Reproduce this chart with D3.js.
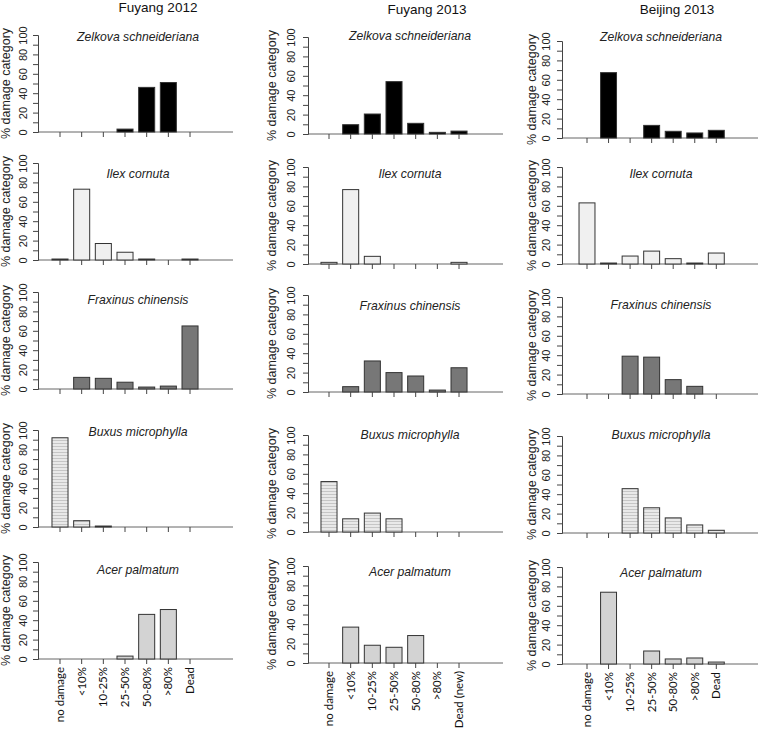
<!DOCTYPE html>
<html>
<head>
<meta charset="utf-8">
<script src="https://cdn.jsdelivr.net/npm/d3@7"></script>
<style>
body{margin:0;background:#fff}
</style>
</head>
<body>
<svg id="chart" width="760" height="732"></svg>
<script>
// data
var sites = ["Fuyang 2012", "Fuyang 2013", "Beijing 2013"];
var species = ["Zelkova schneideriana", "Ilex cornuta", "Fraxinus chinensis", "Buxus microphylla", "Acer palmatum"];
var categories = ["no damage", "<10%", "10-25%", "25-50%", "50-80%", ">80%", "Dead"];
var categoriesNew = ["no damage", "<10%", "10-25%", "25-50%", "50-80%", ">80%", "Dead (new)"];
var yTicks = [0, 10, 20, 30, 40, 50, 60, 70, 80, 90, 100];

var fuyang2012 = [
  [0, 0, 0, 3, 46, 51, 0],
  [1, 73, 17, 8, 1, 0, 1],
  [0, 12, 11, 7, 2, 3, 65],
  [92, 6.5, 1, 0, 0, 0, 0],
  [0, 0, 0, 3, 46, 51, 0]
];
var fuyang2013 = [
  [0, 9.6, 20.6, 54, 11, 1.7, 3],
  [1.7, 76.7, 7.9, 0, 0, 0, 1.7],
  [0, 5.5, 32, 20, 16.5, 2, 25],
  [52, 13.6, 19.5, 13.6, 0, 0, 0],
  [0, 37, 18.3, 16.2, 28.3, 0, 0]
];
var beijing2013 = [
  [0, 67.4, 0, 13, 6.9, 5.2, 7.9],
  [63, 1, 8.2, 13.3, 5.5, 1, 11.3],
  [0, 0, 39, 38, 14.8, 7.9, 0],
  [0, 0, 45.7, 26, 15.6, 8.3, 2.8],
  [0, 74, 0, 13.4, 5.2, 6.2, 2]
];
var siteData = [fuyang2012, fuyang2013, beijing2013];
var siteLabels = [categories, categoriesNew, categories];

// layout, one entry per column
var fills = ["#000000", "#f0f0f0", "#777777", "url(#stripes)", "#d3d3d3"];
var cols = [
  {axis: 38, c0: 60, step: 21.67, end: 233, tops: [35, 163, 292, 430, 562], titleX: 158, titleY: 12, spX: 138, spY: [41, 178, 304, 436, 574], ylab: 28, tick: 11},
  {axis: 308, c0: 329, step: 21.67, end: 503, tops: [37, 167, 295, 435, 566], titleX: 427, titleY: 14, spX: 410, spY: [40, 178, 310, 439, 576], ylab: 32, tick: 13},
  {axis: 562, c0: 587, step: 21.55, end: 758, tops: [41, 167, 297, 436, 567], titleX: 677, titleY: 14, spX: 661, spY: [41, 178, 309, 439, 577], ylab: 26, tick: 12}
];
var plotH = 97;

var svg = d3.select("#chart");

var pat = svg.append("defs").append("pattern")
    .attr("id", "stripes")
    .attr("width", 4)
    .attr("height", 3)
    .attr("patternUnits", "userSpaceOnUse");
pat.append("rect").attr("width", 4).attr("height", 3).attr("fill", "#e9e9e9");
pat.append("rect").attr("y", 2).attr("width", 4).attr("height", 1).attr("fill", "#c6c6c6");

cols.forEach(function(c, ci) {
  // column title
  svg.append("text")
      .attr("x", c.titleX)
      .attr("y", c.titleY)
      .attr("text-anchor", "middle")
      .style("font-family", "Liberation Sans, Arial, sans-serif")
      .style("font-size", "13.5px")
      .attr("fill", "#111")
      .text(sites[ci]);

  species.forEach(function(sp, ri) {
    var top = c.tops[ri];
    var x = d3.scaleBand()
        .domain(d3.range(categories.length))
        .range([c.c0 - c.step / 2, c.c0 + (categories.length - 0.5) * c.step])
        .paddingInner(0.26)
        .paddingOuter(0.13);
    var y = d3.scaleLinear().domain([0, 100]).range([top + plotH, top]);
    var g = svg.append("g");

    // x baseline
    g.append("line")
        .attr("x1", c.axis).attr("x2", c.end)
        .attr("y1", y(0)).attr("y2", y(0))
        .attr("stroke", "#666").attr("stroke-width", 1);

    // bars
    g.selectAll("rect.bar")
        .data(siteData[ci][ri].map(function(v, i) { return {i: i, v: v}; }).filter(function(d) { return d.v > 0; }))
      .enter().append("rect")
        .attr("class", "bar")
        .attr("x", function(d) { return x(d.i); })
        .attr("y", function(d) { return y(d.v); })
        .attr("width", x.bandwidth())
        .attr("height", function(d) { return y(0) - y(d.v); })
        .attr("fill", fills[ri])
        .attr("stroke", "#333")
        .attr("stroke-width", 1);

    // y axis
    var ya = g.append("g")
        .attr("transform", "translate(" + c.axis + ",0)")
        .call(d3.axisLeft(y).tickValues(yTicks).tickSize(5)
          .tickFormat(function(d) { return d % 20 === 0 ? d : ""; }));
    ya.select(".domain").attr("stroke", "#444");
    ya.selectAll("line").attr("stroke", "#444");
    ya.selectAll("text")
        .attr("transform", "rotate(-90)")
        .attr("x", 0)
        .attr("y", -c.tick)
        .attr("dy", 0)
        .attr("text-anchor", "middle")
        .attr("fill", "#222")
        .style("font-family", "Liberation Sans, Arial, sans-serif")
        .style("font-size", "11px");

    // x axis ticks
    var xa = g.append("g")
        .attr("transform", "translate(0," + y(0) + ")")
        .call(d3.axisBottom(x).tickSize(5)
          .tickFormat(function(i) { return ri === species.length - 1 ? siteLabels[ci][i] : ""; }));
    xa.select(".domain").remove();
    xa.selectAll("line").attr("stroke", "#444");
    xa.selectAll("text")
        .attr("transform", "rotate(-90)")
        .attr("x", -8)
        .attr("y", 0)
        .attr("dy", "0.35em")
        .attr("text-anchor", "end")
        .attr("fill", "#111")
        .style("font-family", "Lato, sans-serif")
        .style("font-size", "11.5px");

    // y label
    g.append("text")
        .attr("transform", "translate(" + (c.axis - c.ylab) + "," + (top + plotH / 2) + ") rotate(-90)")
        .attr("text-anchor", "middle")
        .style("font-family", "Liberation Sans, Arial, sans-serif")
        .style("font-size", "12.5px")
        .attr("fill", "#222")
        .text("% damage category");

    // species name
    g.append("text")
        .attr("x", c.spX)
        .attr("y", c.spY[ri])
        .attr("text-anchor", "middle")
        .style("font-family", "Liberation Sans, Arial, sans-serif")
        .style("font-style", "italic")
        .style("font-size", "12.2px")
        .attr("fill", "#222")
        .text(sp);
  });
});
</script>
</body>
</html>
